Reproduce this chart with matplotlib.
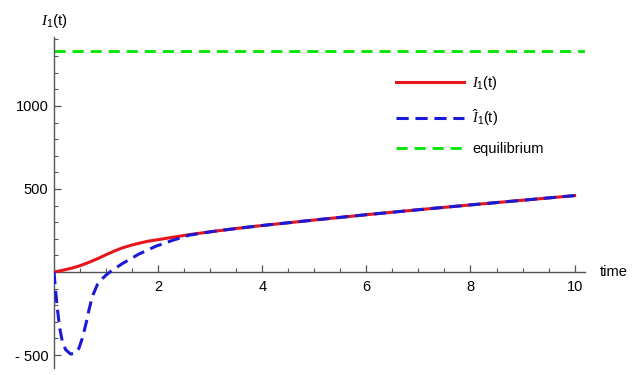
import matplotlib
matplotlib.use("Agg")
import matplotlib.pyplot as plt
from matplotlib.ticker import MultipleLocator, FixedLocator

plt.rcParams['font.family'] = ['Liberation Sans', 'DejaVu Sans']
plt.rcParams['mathtext.fontset'] = 'custom'
plt.rcParams['mathtext.it'] = 'Liberation Serif:italic'
plt.rcParams['mathtext.rm'] = 'Liberation Sans'

# I1(t) (red)
t_red = [0, 0.15, 0.35, 0.5, 0.67, 0.85, 1.0, 1.15, 1.31, 1.47, 1.63, 1.8, 2.0, 2.28, 2.6,
         3.0, 3.5, 4.0, 5.0, 6.0, 7.0, 8.0, 9.0, 10.0]
I_red = [0, 9, 24, 38, 58, 82, 104, 125, 145, 160, 173, 185, 195, 209, 225,
         242, 262, 280, 313, 345, 375, 404, 432, 460]

# estimated I1 hat (blue)
t_blue = [0, 0.032, 0.064, 0.109, 0.16, 0.224, 0.32, 0.417, 0.48, 0.545, 0.61, 0.673,
          0.737, 0.833, 0.93, 0.994, 1.09, 1.31, 1.63, 1.955, 2.28, 2.47, 2.6,
          3.0, 3.5, 4.0, 5.0, 6.0, 7.0, 8.0, 9.0, 10.0]
I_blue = [0, -116, -217, -337, -418, -468, -494, -488, -458, -398, -317, -227,
          -147, -76, -40, -20, 4, 50, 108, 155, 191, 209, 222,
          242, 262, 280, 313, 345, 375, 404, 432, 460]

equilibrium = 1333
x_range = [0, 10.2]

fig = plt.figure(figsize=(6.39, 3.75), dpi=100)
ax = fig.add_axes([54/639, 7/375, 531/639, 331/375])

ax.plot(x_range, [equilibrium, equilibrium], color='#00e600', lw=2, ls=(0, (4, 2.5)),
        label='equilibrium', zorder=2)
ax.plot(t_red, I_red, color='#e8141c', lw=2.2, label=r'$I_1$(t)', zorder=3)
ax.plot(t_blue, I_blue, color='#1a1ad6', lw=2.2, ls=(0, (4, 2.2)),
        label=r'$\hat{I}_1$(t)', zorder=4)

ax.set_xlim(0, 10.2)
ax.set_ylim(-578, 1415)

for s in ['top', 'right']:
    ax.spines[s].set_visible(False)
ax.spines['left'].set_position(('data', 0))
ax.spines['bottom'].set_position(('data', 0))
for s in ['left', 'bottom']:
    ax.spines[s].set_color('#555555')
    ax.spines[s].set_linewidth(1.0)

ax.xaxis.set_major_locator(FixedLocator([2, 4, 6, 8, 10]))
ax.xaxis.set_minor_locator(MultipleLocator(0.5))
ax.yaxis.set_major_locator(FixedLocator([-500, 500, 1000]))
ax.yaxis.set_minor_locator(MultipleLocator(100))
ax.set_yticklabels(['- 500', '500', '1000'])
ax.tick_params(which='major', direction='in', length=5, width=0.9, color='#555555',
               labelsize=10.5, pad=6)
ax.tick_params(which='minor', direction='in', length=3, width=0.8, color='#555555')
ax.tick_params(axis='y', pad=4)

ax.text(0, 1.02, r'$I_1$(t)', transform=ax.transAxes, ha='center', va='bottom',
        fontsize=11)
fig.text(600/639, 1 - 272/375, 'time', ha='left', va='center', fontsize=10.5)

handles, labels = ax.get_legend_handles_labels()
order = [1, 2, 0]
leg = ax.legend([handles[i] for i in order], [labels[i] for i in order],
                loc='upper left', bbox_to_anchor=(0.634, 0.905), frameon=False,
                handlelength=4.6, handletextpad=0.6, labelspacing=1.0, fontsize=10.5,
                borderaxespad=0)

fig.savefig('out.png', dpi=100)
